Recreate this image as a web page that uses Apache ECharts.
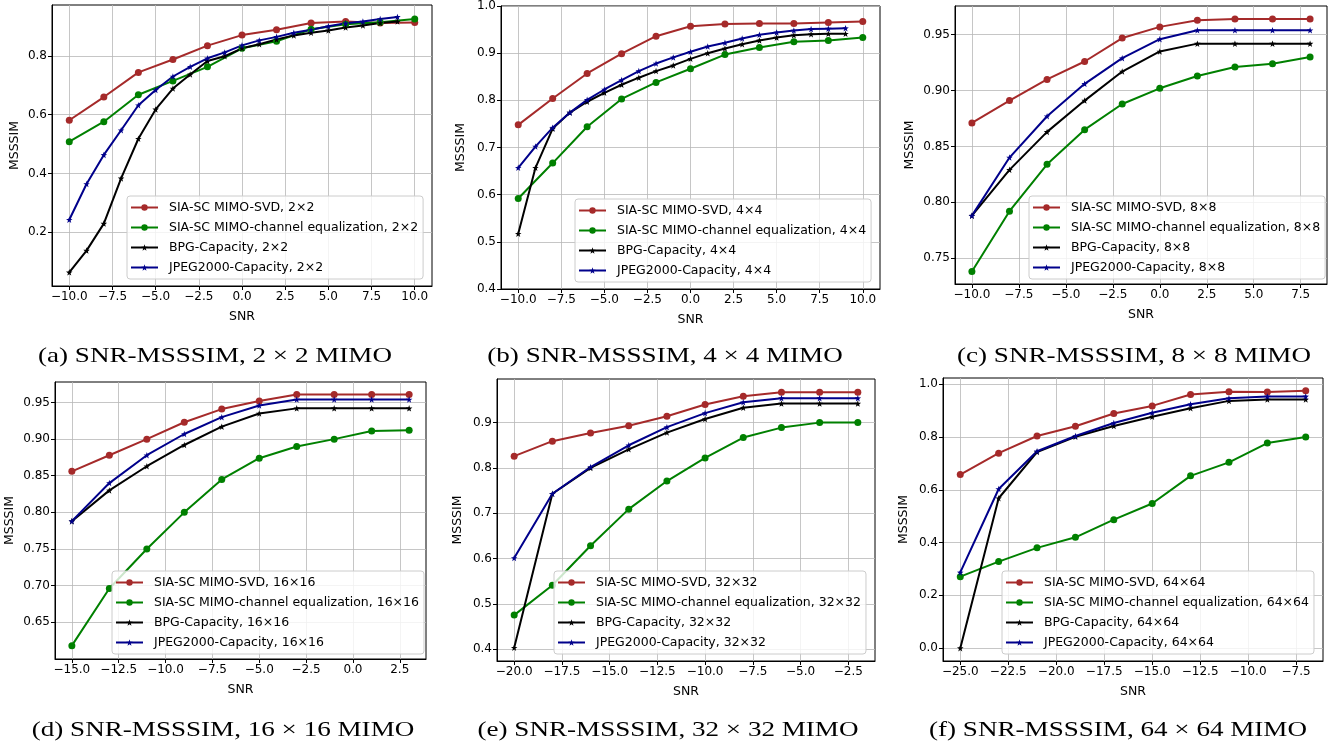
<!DOCTYPE html>
<html>
<head>
<meta charset="utf-8">
<script src="https://cdn.jsdelivr.net/npm/echarts@6/dist/echarts.min.js"></script>
<style>
  body { margin: 0; background: #fff; }
  #main { width: 1340px; height: 747px; }
</style>
</head>
<body>
<div id="main"></div>
<script>
// (a) 2x2
const snrA = [-10, -8, -6, -4, -2, 0, 2, 4, 6, 8, 10]
const snrAfine = [-10, -9, -8, -7, -6, -5, -4, -3, -2, -1, 0, 1, 2, 3, 4, 5, 6, 7, 8, 9]
const svdA = [0.581, 0.660, 0.744, 0.788, 0.835, 0.871, 0.889, 0.912, 0.917, 0.912, 0.914]
const eqA = [0.508, 0.576, 0.668, 0.715, 0.763, 0.826, 0.850, 0.891, 0.908, 0.915, 0.926]
const bpgA = [0.063, 0.137, 0.229, 0.383, 0.518, 0.618, 0.689, 0.737, 0.783, 0.799, 0.826, 0.840, 0.856, 0.870, 0.879, 0.887, 0.897, 0.904, 0.912, 0.917]
const jpegA = [0.242, 0.364, 0.463, 0.547, 0.632, 0.684, 0.730, 0.763, 0.792, 0.812, 0.836, 0.853, 0.865, 0.879, 0.889, 0.901, 0.911, 0.917, 0.926, 0.933]
const xTicksA = [-10, -7.5, -5, -2.5, 0, 2.5, 5, 7.5, 10]
const yTicksA = [0.2, 0.4, 0.6, 0.8]

// (b) 4x4
const snrB = [-10, -8, -6, -4, -2, 0, 2, 4, 6, 8, 10]
const snrBfine = [-10, -9, -8, -7, -6, -5, -4, -3, -2, -1, 0, 1, 2, 3, 4, 5, 6, 7, 8, 9]
const svdB = [0.748, 0.804, 0.857, 0.899, 0.936, 0.957, 0.962, 0.963, 0.963, 0.965, 0.967]
const eqB = [0.592, 0.667, 0.744, 0.803, 0.838, 0.867, 0.897, 0.912, 0.924, 0.927, 0.933]
const bpgB = [0.517, 0.657, 0.740, 0.774, 0.797, 0.816, 0.833, 0.848, 0.862, 0.874, 0.888, 0.900, 0.910, 0.919, 0.927, 0.933, 0.938, 0.940, 0.941, 0.941]
const jpegB = [0.657, 0.702, 0.742, 0.774, 0.801, 0.823, 0.843, 0.862, 0.878, 0.891, 0.903, 0.914, 0.922, 0.931, 0.939, 0.944, 0.948, 0.951, 0.952, 0.953]
const xTicksB = [-10, -7.5, -5, -2.5, 0, 2.5, 5, 7.5, 10]
const yTicksB = [0.4, 0.5, 0.6, 0.7, 0.8, 0.9, 1.0]

// (c) 8x8
const snrC = [-10, -8, -6, -4, -2, 0, 2, 4, 6, 8]
const svdC = [0.871, 0.891, 0.910, 0.926, 0.947, 0.957, 0.963, 0.964, 0.964, 0.964]
const eqC = [0.738, 0.792, 0.834, 0.865, 0.888, 0.902, 0.913, 0.921, 0.924, 0.930]
const bpgC = [0.788, 0.829, 0.863, 0.891, 0.917, 0.935, 0.942, 0.942, 0.942, 0.942]
const jpegC = [0.788, 0.840, 0.877, 0.906, 0.929, 0.946, 0.954, 0.954, 0.954, 0.954]
const xTicksC = [-10, -7.5, -5, -2.5, 0, 2.5, 5, 7.5]
const yTicksC = [0.75, 0.80, 0.85, 0.90, 0.95]

// (d) 16x16
const snrD = [-15, -13, -11, -9, -7, -5, -3, -1, 1, 3]
const svdD = [0.856, 0.878, 0.900, 0.923, 0.941, 0.952, 0.961, 0.961, 0.961, 0.961]
const eqD = [0.618, 0.696, 0.750, 0.800, 0.845, 0.874, 0.890, 0.900, 0.911, 0.912]
const bpgD = [0.788, 0.830, 0.863, 0.892, 0.917, 0.935, 0.942, 0.942, 0.942, 0.942]
const jpegD = [0.788, 0.840, 0.878, 0.907, 0.930, 0.946, 0.954, 0.954, 0.954, 0.954]
const xTicksD = [-15, -12.5, -10, -7.5, -5, -2.5, 0, 2.5]
const yTicksD = [0.65, 0.70, 0.75, 0.80, 0.85, 0.90, 0.95]

// (e) 32x32
const snrE = [-20, -18, -16, -14, -12, -10, -8, -6, -4, -2]
const svdE = [0.826, 0.859, 0.877, 0.893, 0.914, 0.940, 0.958, 0.967, 0.967, 0.967]
const eqE = [0.475, 0.541, 0.628, 0.709, 0.771, 0.822, 0.867, 0.889, 0.900, 0.900]
const bpgE = [0.403, 0.743, 0.800, 0.841, 0.878, 0.908, 0.933, 0.942, 0.942, 0.942]
const jpegE = [0.601, 0.743, 0.802, 0.850, 0.890, 0.921, 0.945, 0.954, 0.954, 0.954]
const xTicksE = [-20, -17.5, -15, -12.5, -10, -7.5, -5, -2.5]
const yTicksE = [0.4, 0.5, 0.6, 0.7, 0.8, 0.9]

// (f) 64x64
const snrF = [-25, -23, -21, -19, -17, -15, -13, -11, -9, -7]
const svdF = [0.658, 0.739, 0.804, 0.841, 0.889, 0.918, 0.961, 0.972, 0.971, 0.975]
const eqF = [0.271, 0.328, 0.380, 0.420, 0.487, 0.548, 0.653, 0.704, 0.777, 0.800]
const bpgF = [0.000, 0.568, 0.743, 0.801, 0.842, 0.877, 0.909, 0.937, 0.942, 0.942]
const jpegF = [0.287, 0.603, 0.746, 0.804, 0.853, 0.892, 0.924, 0.947, 0.954, 0.954]
const xTicksF = [-25, -22.5, -20, -17.5, -15, -12.5, -10, -7.5]
const yTicksF = [0.0, 0.2, 0.4, 0.6, 0.8, 1.0]

const STAR = 'path://M0,-10 L2.35,-3.24 L9.51,-3.09 L3.8,1.24 L5.88,8.09 L0,4 L-5.88,8.09 L-3.8,1.24 L-9.51,-3.09 L-2.35,-3.24 Z'
const TICK_FONT = { fontFamily: 'DejaVu Sans', fontSize: 12, color: '#000' }

const option = {
  animation: false,
  backgroundColor: '#fff',
  grid: [], xAxis: [], yAxis: [], legend: [], series: [], graphic: []
}

function minus(s) { return s.replace('-', '\u2212') }

function addPanel(idx, box, xr, yr, xt, yt, yDigits, yGap, lg, size, lines, caption, capPos) {
  option.grid.push({
    left: box[0], top: box[1], width: box[2], height: box[3],
    show: true, borderColor: '#000', borderWidth: 1
  })
  option.xAxis.push({
    gridIndex: idx, type: 'value', min: xr[0], max: xr[1],
    name: 'SNR', nameLocation: 'middle', nameGap: 24,
    nameTextStyle: { fontFamily: 'DejaVu Sans', fontSize: 12.5, color: '#000' },
    axisLine: { show: true, onZero: false, lineStyle: { color: '#000' } },
    axisTick: { customValues: xt, length: 4, lineStyle: { color: '#000' } },
    axisLabel: Object.assign({ customValues: xt, margin: 5, formatter: v => minus(v.toFixed(1)) }, TICK_FONT),
    splitLine: { show: true, lineStyle: { color: '#b8b8b8', width: 0.8 } }
  })
  option.yAxis.push({
    gridIndex: idx, type: 'value', min: yr[0], max: yr[1],
    name: 'MSSSIM', nameLocation: 'middle', nameGap: yGap,
    nameTextStyle: { fontFamily: 'DejaVu Sans', fontSize: 12.5, color: '#000' },
    axisLine: { show: true, onZero: false, lineStyle: { color: '#000' } },
    axisTick: { customValues: yt, length: 4, lineStyle: { color: '#000' } },
    axisLabel: Object.assign({ customValues: yt, margin: 5, formatter: v => minus(v.toFixed(yDigits)) }, TICK_FONT),
    splitLine: { show: true, lineStyle: { color: '#b8b8b8', width: 0.8 } }
  })
  const names = []
  lines.forEach(([xs, ys, label, color, star]) => {
    const name = label + ', ' + size
    names.push(name)
    option.series.push({
      name, type: 'line', xAxisIndex: idx, yAxisIndex: idx,
      data: xs.map((x, i) => [x, ys[i]]),
      symbol: star ? STAR : 'circle',
      symbolSize: star ? 6.5 : 7,
      lineStyle: { color, width: 2 },
      itemStyle: { color },
      z: 2
    })
  })
  option.legend.push({
    orient: 'vertical', left: lg[0], top: lg[1], data: names,
    itemWidth: 27, itemHeight: 8, itemGap: 7, padding: [5, 5, 5, 3],
    backgroundColor: 'rgba(255,255,255,0.8)', borderColor: '#cccccc',
    borderWidth: 1, borderRadius: 3, selectedMode: false,
    textStyle: { fontFamily: 'DejaVu Sans', fontSize: 12.5, color: '#000', padding: [0, 0, 0, 6] }
  })
  option.graphic.push({
    type: 'text', x: capPos[0], y: capPos[1], scaleX: 1.26,
    style: {
      text: caption, fill: '#000', font: '21.5px "Liberation Serif"',
      textAlign: 'center', textVerticalAlign: 'middle'
    }
  })
}

function group(s, svd, eq, bpg, jpeg, sFine) {
  return [
    [s, svd, 'SIA-SC MIMO-SVD', '#a52a2a', false],
    [s, eq, 'SIA-SC MIMO-channel equalization', '#008000', false],
    [sFine || s, bpg, 'BPG-Capacity', '#000000', true],
    [sFine || s, jpeg, 'JPEG2000-Capacity', '#00008b', true]
  ]
}

addPanel(0, [52, 5, 380, 281], [-11, 11], [0.0165, 0.9735], xTicksA, yTicksA, 1, 31,
  [127, 196], '2×2', group(snrA, svdA, eqA, bpgA, jpegA, snrAfine),
  '(a) SNR-MSSSIM, 2 × 2 MIMO', [215, 356])
addPanel(1, [501, 6, 379, 283], [-11, 11], [0.4, 1.0], xTicksB, yTicksB, 1, 34,
  [575, 199], '4×4', group(snrB, svdB, eqB, bpgB, jpegB, snrBfine),
  '(b) SNR-MSSSIM, 4 × 4 MIMO', [665, 356])
addPanel(2, [955, 6, 372, 278], [-10.9, 8.9], [0.7268, 0.9757], xTicksC, yTicksC, 2, 39,
  [1029, 196], '8×8', group(snrC, svdC, eqC, bpgC, jpegC),
  '(c) SNR-MSSSIM, 8 × 8 MIMO', [1134, 356])
addPanel(3, [55, 382, 371, 277], [-15.9, 3.9], [0.5998, 0.978], xTicksD, yTicksD, 2, 39,
  [112, 571], '16×16', group(snrD, svdD, eqD, bpgD, jpegD),
  '(d) SNR-MSSSIM, 16 × 16 MIMO', [223, 730])
addPanel(4, [497, 379, 378, 282], [-20.9, -1.1], [0.3737, 0.9963], xTicksE, yTicksE, 1, 33,
  [554, 571], '32×32', group(snrE, svdE, eqE, bpgE, jpegE),
  '(e) SNR-MSSSIM, 32 × 32 MIMO', [668, 730])
addPanel(5, [943, 378, 380, 283], [-25.9, -6.1], [-0.04875, 1.02375], xTicksF, yTicksF, 1, 33,
  [1002, 571], '64×64', group(snrF, svdF, eqF, bpgF, jpegF),
  '(f) SNR-MSSSIM, 64 × 64 MIMO', [1118, 730])

const myChart = echarts.init(document.getElementById('main'))
myChart.setOption(option)
</script>
</body>
</html>
